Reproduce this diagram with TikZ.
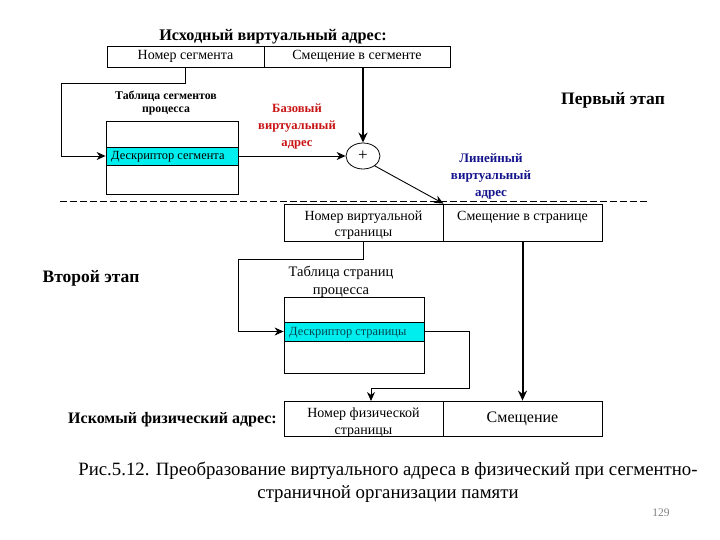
\documentclass[tikz,border=0pt]{standalone}
\usepackage{fontspec}
\setmainfont{Liberation Serif}
\usetikzlibrary{arrows.meta,shapes.geometric}
\definecolor{cyanrow}{RGB}{0,238,238}
\definecolor{redlab}{RGB}{200,20,20}
\definecolor{bluelab}{RGB}{20,20,140}
\definecolor{tealtxt}{RGB}{0,70,80}
\tikzset{
  cell/.style={draw,line width=0.8pt,inner sep=0pt,align=center,font=\fontsize{14}{16}\selectfont},
  celltext/.style={inner sep=0pt,align=center,font=\fontsize{14}{16}\selectfont},
  row/.style={draw,line width=0.8pt,fill=cyanrow,inner sep=0pt,anchor=center},
  thinarrow/.style={line width=0.9pt,-{Stealth[length=9pt,width=8pt]}},
  thickarrow/.style={line width=2pt,-{Stealth[length=10pt,width=9pt]}},
  boldlab/.style={font=\bfseries\fontsize{17.5}{20}\selectfont,inner sep=0pt},
  smalllab/.style={align=center,inner sep=0pt}
}
\begin{document}
\begin{tikzpicture}[x=1pt,y=-1pt]
\useasboundingbox (0,0) rectangle (720,540);
% title
\node[boldlab,font=\bfseries\fontsize{16.2}{18}\selectfont] (title) at (273,37) {Исходный виртуальный адрес:};
% top address
\node[cell,minimum width=157,minimum height=21] (seg) at (185.5,56.5) {Номер сегмента};
\node[cell,minimum width=186,minimum height=21] (off) at (357,56.5) {Смещение в сегменте};
% segment table
\node[smalllab,font=\bfseries\fontsize{11.8}{13}\selectfont] (sttitle) at (166,103) {Таблица сегментов\\процесса};
\node[draw,line width=0.8pt,minimum width=132,minimum height=73,inner sep=0pt] (st) at (172,157.5) {};
\node[row,minimum width=132,minimum height=18] (sd) at (172,156) {};
\node[anchor=west,inner sep=0pt,font=\fontsize{12.4}{13}\selectfont] (sdtext) at (111,157) {Дескриптор сегмента};
% adder
\node[draw,ellipse,line width=0.8pt,minimum width=34,minimum height=26,inner sep=0pt,font=\fontsize{17}{17}\selectfont] (plus) at (363,156) {+};
% labels
\node[smalllab,text=redlab,font=\bfseries\fontsize{12.6}{17}\selectfont] (base) at (297,127) {Базовый\\виртуальный\\адрес};
\node[smalllab,text=bluelab,font=\bfseries\fontsize{13}{17}\selectfont] (lin) at (491,176) {Линейный\\виртуальный\\адрес};
\node[boldlab] (st1) at (613,100) {Первый этап};
\node[boldlab] (st2) at (91,278) {Второй этап};
% dashed separator
\coordinate (dl) at (60,201);
\coordinate (dr) at (650,201);
\draw[line width=0.8pt,dash pattern=on 7pt off 3pt] (dl) -- (dr);
% virtual page address
\node[cell,minimum width=159,minimum height=37] (vpn) at (363.5,222.5) {};
\node[celltext] (vpnt) at (363.5,225.5) {Номер виртуальной\\страницы};
\node[cell,minimum width=159,minimum height=37] (voff) at (522.5,222.5) {};
\node[celltext] (vofft) at (522.5,217) {Смещение в странице};
% page table
\node[smalllab,font=\fontsize{14.5}{18}\selectfont] (pttitle) at (341,282) {Таблица страниц\\процесса};
\node[draw,line width=0.8pt,minimum width=140,minimum height=76,inner sep=0pt] (pt) at (354,335) {};
\node[row,minimum width=140,minimum height=19] (pd) at (354,331.5) {};
\node[anchor=west,inner sep=0pt,text=tealtxt,font=\fontsize{12.4}{13}\selectfont] (pdtext) at (289,333) {Дескриптор страницы};
% physical address
\node[boldlab,font=\bfseries\fontsize{16}{18}\selectfont,anchor=east] (phys) at (277,420) {Искомый физический адрес:};
\node[cell,minimum width=159,minimum height=35] (ppn) at (363.5,418.5) {};
\node[celltext,font=\fontsize{14}{17}\selectfont] (ppnt) at (363.5,423) {Номер физической\\страницы};
\node[cell,minimum width=159,minimum height=35,font=\fontsize{16}{17}\selectfont] (poff) at (522.5,418.5) {Смещение};
% caption
\node[smalllab,font=\fontsize{18.8}{23}\selectfont] (cap) at (388,482) {Рис.5.12. Преобразование виртуального адреса в физический при сегментно-\\страничной организации памяти};
\node[inner sep=0pt,text=gray,font=\fontsize{11.5}{12}\selectfont] (pg) at (661,513) {129};
% connectors
\coordinate (k1) at (61,83);
\draw[thinarrow] (seg.south) |- (k1) |- (sd.west);
\draw[thickarrow] (plus.north |- off.south) -- (plus.north);
\draw[thinarrow] (sd.east) -- (plus.west);
\draw[thinarrow] (plus.-40) -- (vpn.north east);
\coordinate (k2) at (238,259);
\draw[thinarrow] (vpn.south) |- (k2) |- (pd.west);
\coordinate (k3) at (469,388);
\coordinate (k4) at (371,401);
\draw[thinarrow] (pd.east) -| (k3) -| (k4);
\draw[thickarrow] (voff.south) -- (poff.north);
\end{tikzpicture}
\end{document}
